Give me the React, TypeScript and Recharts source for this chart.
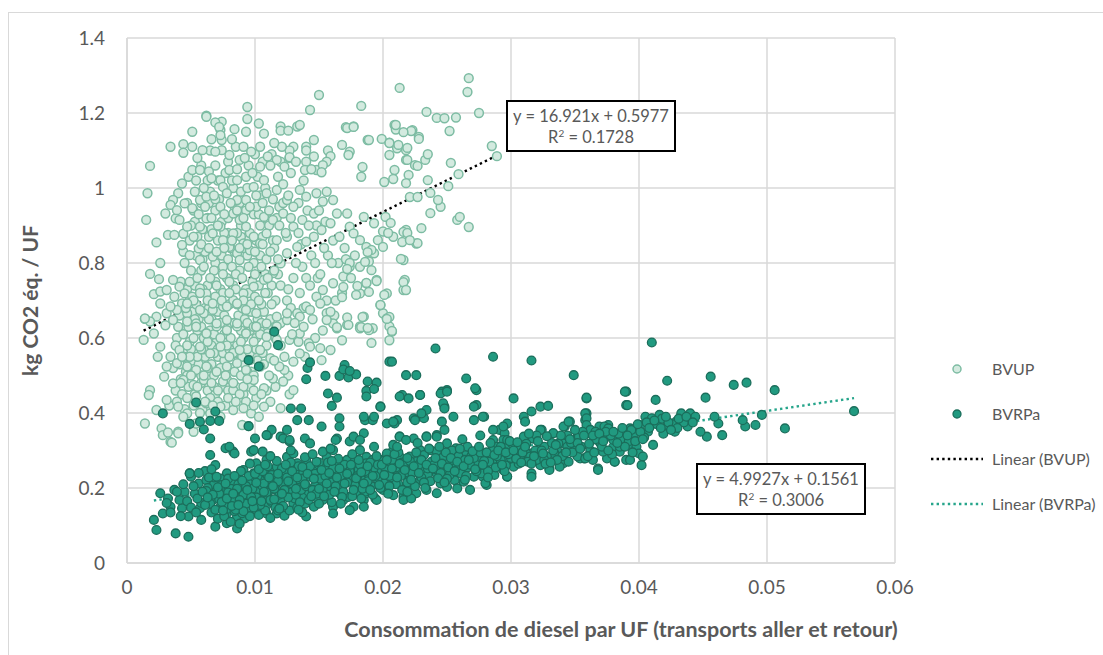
import React from "react";
import {
  ScatterChart,
  Scatter,
  XAxis,
  YAxis,
  CartesianGrid,
  ReferenceLine,
} from "recharts";

// Diesel consumption per UF (x) vs kg CO2 eq. per UF (y)

// BVUP: high scatter group, outlying and right-hand points
const bvupUpper: [number, number][] = [
  [0.0267, 1.293], [0.0266, 1.256], [0.0234, 1.203], [0.0242, 1.187], [0.0248, 1.186], [0.0257, 1.188],
  [0.0275, 1.2], [0.0252, 1.152], [0.0285, 1.112], [0.0289, 1.085], [0.0253, 1.067], [0.0259, 1.037],
  [0.0251, 1.005], [0.0245, 0.95], [0.0237, 0.933], [0.0258, 0.915], [0.026, 0.923], [0.0267, 0.896],
  [0.023, 0.893], [0.0227, 0.853], [0.0213, 1.267], [0.0183, 1.219], [0.021, 1.168], [0.0172, 1.16],
  [0.0177, 1.163], [0.0189, 1.128], [0.0199, 1.131], [0.0205, 1.12], [0.0212, 1.115], [0.0219, 1.107],
  [0.0228, 1.131], [0.0222, 1.152], [0.0216, 1.149], [0.0168, 1.115], [0.0173, 1.088], [0.0205, 1.088],
  [0.0219, 1.075], [0.0227, 1.059], [0.0233, 1.075], [0.0235, 1.09], [0.0184, 1.056], [0.0183, 1.03],
  [0.0209, 1.048], [0.0208, 1.024], [0.0201, 1.016], [0.022, 1.035], [0.0218, 1.013], [0.0235, 1.021],
  [0.0237, 0.987], [0.0221, 0.976], [0.0227, 0.976], [0.0243, 0.968], [0.0202, 0.923], [0.0206, 0.907],
  [0.0216, 0.883], [0.0219, 0.88], [0.0215, 0.856], [0.0221, 0.861], [0.0204, 0.88], [0.0196, 0.861],
  [0.02, 0.843], [0.0191, 0.835], [0.0188, 0.829], [0.0214, 0.811], [0.0186, 0.803], [0.0191, 0.781],
  [0.0174, 0.8], [0.0172, 0.784], [0.0195, 0.752], [0.0216, 0.749], [0.0218, 0.728], [0.0187, 0.747],
  [0.018, 0.739], [0.0189, 0.723], [0.0169, 0.736], [0.0179, 0.715], [0.0168, 0.709], [0.0201, 0.715],
  [0.0198, 0.688], [0.0184, 0.656], [0.0205, 0.656], [0.0203, 0.651], [0.0173, 0.635], [0.0183, 0.629],
  [0.0188, 0.627], [0.0207, 0.619], [0.0164, 0.629], [0.015, 1.248], [0.0094, 1.216], [0.0062, 1.19],
  [0.0143, 1.208],
];

// BVUP: main cloud
const bvupCore: [number, number][] = [
  [0.0062, 1.193], [0.0094, 1.184], [0.0084, 1.157], [0.0093, 1.15], [0.0103, 1.172], [0.0107, 1.145],
  [0.012, 1.164], [0.012, 1.153], [0.0126, 1.153], [0.0133, 1.164], [0.0135, 1.168], [0.0171, 1.162],
  [0.0177, 1.164], [0.0188, 1.128], [0.0209, 1.168], [0.021, 1.156], [0.0223, 1.154], [0.0228, 1.136],
  [0.0205, 1.121], [0.0211, 1.106], [0.0218, 1.101], [0.0218, 1.075], [0.0225, 1.061], [0.0174, 1.097],
  [0.0146, 1.128], [0.014, 1.11], [0.014, 1.1], [0.0146, 1.084], [0.014, 1.07], [0.0139, 1.048],
  [0.0148, 1.048], [0.0157, 1.1], [0.0159, 1.085], [0.0156, 1.07], [0.0153, 1.061], [0.0152, 1.042],
  [0.013, 1.11], [0.0127, 1.1], [0.0121, 1.11], [0.0127, 1.082], [0.0117, 1.075], [0.0123, 1.057],
  [0.011, 1.084], [0.0104, 1.11], [0.0104, 1.057], [0.0097, 1.097], [0.0088, 1.075], [0.008, 1.088],
  [0.0074, 1.101], [0.0069, 1.097], [0.0059, 1.101], [0.0051, 1.11], [0.0066, 1.13], [0.0074, 1.128],
  [0.0073, 1.155], [0.0074, 1.177], [0.0069, 1.175], [0.0072, 1.163], [0.0073, 1.141], [0.0051, 1.15],
  [0.0044, 1.117], [0.0044, 1.094], [0.0034, 1.11], [0.0018, 1.059], [0.0016, 0.986], [0.0015, 0.915],
  [0.003, 0.932], [0.0038, 0.919], [0.0023, 0.855], [0.0032, 0.875], [0.0037, 0.875], [0.0044, 0.878],
  [0.0043, 0.848], [0.0026, 0.8], [0.0018, 0.771], [0.0025, 0.757], [0.0021, 0.717], [0.0026, 0.724],
  [0.0031, 0.728], [0.0014, 0.651], [0.0036, 0.755], [0.0041, 0.737], [0.0049, 0.75], [0.0045, 0.719],
  [0.0051, 0.71], [0.0057, 0.732], [0.0062, 0.719], [0.0043, 0.692], [0.0051, 1.048], [0.0057, 1.048],
  [0.0064, 1.044], [0.0066, 1.026], [0.0073, 1.021], [0.0075, 1.003], [0.0078, 0.986], [0.0043, 1.012],
  [0.004, 0.986], [0.0036, 0.968], [0.0034, 0.955], [0.0039, 0.941], [0.0045, 0.959], [0.0051, 0.946],
  [0.0057, 0.968], [0.0062, 0.977], [0.0041, 0.915], [0.0047, 0.897], [0.0052, 0.87], [0.0057, 0.897],
  [0.0062, 0.919], [0.0067, 0.879], [0.0056, 0.839], [0.0049, 0.821], [0.0057, 0.808], [0.0067, 0.817],
  [0.0073, 0.897], [0.0075, 0.861], [0.0083, 0.879], [0.008, 0.843], [0.0086, 0.826], [0.0091, 0.852],
  [0.0099, 0.87], [0.0093, 0.897], [0.0088, 0.915], [0.0083, 0.932], [0.0073, 0.95], [0.008, 1.048],
  [0.0086, 1.021], [0.0093, 1.03], [0.0099, 1.003], [0.0107, 1.021], [0.0109, 0.986], [0.0117, 0.995],
  [0.0125, 0.968], [0.013, 0.95], [0.0122, 0.932], [0.0114, 0.915], [0.0107, 0.923], [0.0101, 0.95],
  [0.0093, 0.968], [0.0086, 0.968], [0.0135, 0.995], [0.014, 0.977], [0.0148, 0.986], [0.0153, 0.964],
  [0.0146, 0.932], [0.0137, 0.915], [0.013, 0.897], [0.0125, 0.87], [0.0117, 0.861], [0.0109, 0.879],
  [0.0104, 0.852], [0.0096, 0.834], [0.0088, 0.808], [0.0082, 0.79], [0.0075, 0.79], [0.0161, 0.968],
  [0.0164, 0.932], [0.0159, 0.906], [0.0152, 0.888], [0.0146, 0.87], [0.014, 0.857], [0.0133, 0.843],
  [0.0125, 0.826], [0.012, 0.799], [0.0114, 0.773], [0.0107, 0.755], [0.0099, 0.737], [0.0091, 0.719],
  [0.0083, 0.701], [0.0075, 0.684], [0.0067, 0.675], [0.006, 0.666], [0.0172, 0.932], [0.0174, 0.897],
  [0.0177, 0.879], [0.0182, 0.861], [0.0187, 0.843], [0.0193, 0.826], [0.0189, 0.804], [0.0182, 0.79],
  [0.0174, 0.79], [0.0169, 0.764], [0.0161, 0.746], [0.0153, 0.728], [0.0148, 0.71], [0.014, 0.684],
  [0.0133, 0.666], [0.0125, 0.648], [0.0117, 0.631], [0.011, 0.613], [0.0101, 0.631], [0.0093, 0.613],
  [0.0086, 0.631], [0.0078, 0.648], [0.007, 0.631], [0.0062, 0.613], [0.0054, 0.639], [0.0047, 0.666],
  [0.0039, 0.675], [0.0031, 0.666], [0.0023, 0.657], [0.0018, 0.644], [0.0185, 0.923], [0.0193, 0.906],
  [0.02, 0.884], [0.0208, 0.87], [0.0218, 0.888], [0.0226, 0.852], [0.0216, 0.808], [0.0217, 0.755],
  [0.0216, 0.728], [0.0203, 0.719], [0.0195, 0.755], [0.0187, 0.746], [0.0182, 0.719], [0.02, 0.666],
  [0.0205, 0.631], [0.0192, 0.626], [0.0182, 0.631], [0.0172, 0.635], [0.0161, 0.639], [0.0156, 0.666],
  [0.0045, 0.8], [0.005, 0.78], [0.0055, 0.76], [0.006, 0.79], [0.0065, 0.76], [0.007, 0.74],
  [0.0075, 0.77], [0.008, 0.75], [0.0085, 0.77], [0.009, 0.76], [0.0095, 0.79], [0.01, 0.77],
  [0.0105, 0.79], [0.011, 0.76], [0.0115, 0.78], [0.012, 0.74], [0.0047, 0.58], [0.0052, 0.6],
  [0.0058, 0.57], [0.0063, 0.59], [0.0068, 0.56], [0.0073, 0.6], [0.0078, 0.58], [0.0083, 0.56],
  [0.0089, 0.59], [0.0094, 0.57], [0.0099, 0.59], [0.0104, 0.61], [0.0109, 0.58], [0.0056, 0.93],
  [0.0061, 0.95], [0.0066, 0.92], [0.0071, 0.9], [0.0076, 0.93], [0.0081, 0.96], [0.0086, 0.94],
  [0.0091, 0.92], [0.0096, 0.95], [0.0101, 0.98], [0.0106, 0.96], [0.0111, 0.94], [0.0046, 0.68],
  [0.0052, 0.7], [0.0057, 0.72], [0.0063, 0.7], [0.0069, 0.71], [0.0074, 0.7], [0.008, 0.72],
  [0.0086, 0.69], [0.0091, 0.7], [0.0097, 0.69], [0.0103, 0.7], [0.0108, 0.72], [0.0113, 0.69],
  [0.0058, 0.85], [0.0064, 0.84], [0.007, 0.83], [0.0076, 0.84], [0.0082, 0.86], [0.0088, 0.84],
  [0.0094, 0.85], [0.01, 0.83], [0.0106, 0.85], [0.0112, 0.83], [0.0118, 0.81], [0.006, 1.0],
  [0.0068, 0.98], [0.0086, 1.05], [0.0092, 1.08], [0.0098, 1.04], [0.0112, 1.06], [0.0118, 1.03],
  [0.0115, 1.12], [0.0091, 1.11], [0.0082, 1.13], [0.0122, 1.01], [0.0128, 1.04], [0.0132, 1.07],
  [0.0126, 0.98], [0.0138, 1.02], [0.0144, 1.05], [0.0128, 0.92], [0.0134, 0.88], [0.0142, 0.9],
  [0.015, 0.94], [0.0156, 0.99], [0.0124, 0.88], [0.0119, 0.9], [0.0132, 0.8], [0.014, 0.76],
  [0.0147, 0.8], [0.0154, 0.84], [0.016, 0.8], [0.0126, 0.73], [0.0135, 0.72], [0.0143, 0.74],
  [0.0151, 0.77], [0.0166, 0.87], [0.017, 0.84], [0.0178, 0.82], [0.0163, 0.7], [0.0168, 0.72],
  [0.0175, 0.76], [0.0038, 0.58], [0.004, 0.63], [0.0037, 0.71],
];

// BVUP: densest part of the cloud
const bvupDense: [number, number][] = [
  [0.0048, 1.03], [0.0053, 0.99], [0.0058, 1.06], [0.0063, 1.02], [0.0069, 1.06], [0.0072, 0.97],
  [0.0077, 1.04], [0.0083, 1.0], [0.0089, 0.99], [0.0095, 1.06], [0.0102, 1.03], [0.0108, 1.0],
  [0.0113, 1.09], [0.0047, 0.96], [0.0053, 0.91], [0.0059, 0.89], [0.0064, 0.96], [0.0069, 0.94],
  [0.0074, 0.91], [0.0079, 0.88], [0.0084, 0.95], [0.0089, 0.9], [0.0094, 0.87], [0.0099, 0.93],
  [0.0104, 0.9], [0.0109, 0.92], [0.0114, 0.86], [0.0119, 0.95], [0.0044, 0.83], [0.0049, 0.86],
  [0.0054, 0.82], [0.0059, 0.81], [0.0064, 0.87], [0.0069, 0.8], [0.0074, 0.82], [0.0079, 0.81],
  [0.0084, 0.83], [0.0089, 0.87], [0.0094, 0.82], [0.0099, 0.8], [0.0104, 0.82], [0.0109, 0.81],
  [0.0115, 0.84], [0.0042, 0.75], [0.0047, 0.73], [0.0053, 0.74], [0.0058, 0.78], [0.0063, 0.74],
  [0.0068, 0.78], [0.0073, 0.73], [0.0078, 0.76], [0.0083, 0.74], [0.0088, 0.78], [0.0093, 0.73],
  [0.0098, 0.75], [0.0103, 0.74], [0.0108, 0.77], [0.0113, 0.74], [0.0118, 0.77], [0.0041, 0.66],
  [0.0046, 0.63], [0.0051, 0.67], [0.0056, 0.65], [0.0061, 0.68], [0.0066, 0.65], [0.0071, 0.67],
  [0.0076, 0.66], [0.0081, 0.64], [0.0087, 0.66], [0.0092, 0.65], [0.0097, 0.67], [0.0102, 0.65],
  [0.0107, 0.67], [0.0112, 0.65], [0.0039, 0.6], [0.0044, 0.61], [0.0049, 0.59], [0.0055, 0.62],
  [0.006, 0.6], [0.0065, 0.62], [0.007, 0.59], [0.0076, 0.61], [0.0081, 0.6], [0.0086, 0.58],
  [0.0091, 0.6], [0.0096, 0.62], [0.0101, 0.6], [0.0106, 0.62], [0.0036, 0.52], [0.0041, 0.53],
  [0.0046, 0.51], [0.0051, 0.54], [0.0056, 0.53], [0.0061, 0.55], [0.0066, 0.53], [0.0071, 0.55],
  [0.0076, 0.54], [0.0081, 0.52], [0.0087, 0.55], [0.0092, 0.53], [0.0097, 0.51], [0.0102, 0.54],
  [0.0107, 0.53], [0.0038, 0.46], [0.0043, 0.45], [0.0048, 0.47], [0.0053, 0.45], [0.0058, 0.48],
  [0.0063, 0.46], [0.0069, 0.45], [0.0074, 0.47], [0.0079, 0.46], [0.0085, 0.47], [0.0091, 0.45],
  [0.0096, 0.47], [0.0101, 0.44], [0.0033, 0.42], [0.0039, 0.43], [0.0045, 0.41], [0.0052, 0.42],
  [0.0059, 0.41], [0.0065, 0.44], [0.0071, 0.43], [0.0077, 0.42], [0.0093, 0.43], [0.0109, 0.46],
  [0.0125, 0.7], [0.013, 0.76], [0.0137, 0.79], [0.0144, 0.82], [0.0136, 0.85], [0.0122, 0.96],
  [0.0127, 1.08], [0.0134, 0.96], [0.0141, 0.94], [0.0148, 0.9], [0.0155, 0.91], [0.0161, 0.86],
  [0.0157, 0.82], [0.0165, 0.8], [0.0171, 0.81], [0.0149, 0.76], [0.0156, 0.7], [0.0145, 0.65],
  [0.0138, 0.68], [0.0128, 0.68], [0.012, 0.64], [0.0116, 0.6], [0.0134, 0.59], [0.012, 0.58],
  [0.0126, 0.5], [0.0116, 0.47], [0.0112, 0.43], [0.0127, 0.45], [0.0139, 0.55], [0.0147, 0.6],
  [0.0153, 0.62], [0.0162, 0.66], [0.005, 0.9], [0.0055, 0.87], [0.0061, 0.83], [0.0066, 0.89],
  [0.0071, 0.86], [0.0076, 0.88], [0.0081, 0.84], [0.0086, 0.88], [0.0091, 0.84], [0.0096, 0.88],
  [0.0101, 0.86], [0.0106, 0.87], [0.0111, 0.9], [0.0049, 0.71], [0.0054, 0.69], [0.0059, 0.73],
  [0.0064, 0.68], [0.0069, 0.75], [0.0075, 0.72], [0.008, 0.69], [0.0085, 0.73], [0.009, 0.68],
  [0.0095, 0.72], [0.01, 0.71], [0.0105, 0.69], [0.011, 0.72], [0.0116, 0.7], [0.0048, 0.63],
  [0.0053, 0.65], [0.0058, 0.63], [0.0064, 0.65], [0.0068, 0.61], [0.0073, 0.64], [0.0078, 0.62],
  [0.0084, 0.64], [0.0089, 0.62], [0.0094, 0.64], [0.0099, 0.63], [0.0105, 0.64], [0.011, 0.63],
  [0.0045, 0.55], [0.005, 0.57], [0.0055, 0.55], [0.006, 0.57], [0.0066, 0.58], [0.0071, 0.57],
  [0.0075, 0.56], [0.008, 0.57], [0.0086, 0.56], [0.009, 0.55], [0.0096, 0.56], [0.0101, 0.57],
  [0.0106, 0.56], [0.0042, 0.49], [0.0047, 0.5], [0.0053, 0.51], [0.0058, 0.5], [0.0063, 0.52],
  [0.0068, 0.5], [0.0073, 0.52], [0.0078, 0.49], [0.0084, 0.51], [0.0089, 0.5], [0.0094, 0.51],
  [0.0099, 0.5], [0.0055, 1.08], [0.0065, 1.1], [0.0079, 1.07], [0.0085, 1.11], [0.01, 1.09],
  [0.0106, 1.07], [0.0054, 1.02], [0.0065, 0.99], [0.0071, 1.02], [0.0082, 1.02], [0.0088, 0.96],
  [0.0094, 1.0], [0.0104, 0.98], [0.0114, 0.97], [0.012, 1.07], [0.0052, 0.94], [0.0058, 0.96],
  [0.0063, 0.92], [0.0069, 0.97], [0.0079, 0.92], [0.0093, 0.94], [0.0103, 0.93], [0.0117, 0.92],
];

// BVUP: lower edge of the cloud
const bvupLower: [number, number][] = [
  [0.0026, 0.692], [0.0034, 0.684], [0.0047, 0.692], [0.0057, 0.675], [0.0067, 0.692], [0.0078, 0.684],
  [0.0086, 0.692], [0.0093, 0.675], [0.0101, 0.666], [0.0109, 0.639], [0.0117, 0.657], [0.0125, 0.666],
  [0.0135, 0.657], [0.0143, 0.675], [0.0151, 0.692], [0.0159, 0.67], [0.0172, 0.655], [0.0185, 0.657],
  [0.0189, 0.621], [0.0198, 0.688], [0.0203, 0.652], [0.0207, 0.617], [0.0205, 0.594], [0.0191, 0.587],
  [0.0182, 0.626], [0.0164, 0.626], [0.0156, 0.648], [0.0168, 0.594], [0.0014, 0.652], [0.0013, 0.595],
  [0.0021, 0.612], [0.003, 0.634], [0.0036, 0.648], [0.0047, 0.644], [0.0054, 0.63], [0.0062, 0.612],
  [0.007, 0.639], [0.0078, 0.621], [0.0086, 0.639], [0.0093, 0.612], [0.0101, 0.63], [0.0109, 0.603],
  [0.0117, 0.595], [0.0127, 0.595], [0.0135, 0.612], [0.0142, 0.586], [0.0151, 0.573], [0.0159, 0.568],
  [0.0152, 0.541], [0.0143, 0.577], [0.0135, 0.559], [0.013, 0.537], [0.0123, 0.515], [0.0119, 0.524],
  [0.0026, 0.577], [0.0034, 0.55], [0.0041, 0.568], [0.0049, 0.55], [0.0057, 0.577], [0.0065, 0.559],
  [0.0073, 0.577], [0.008, 0.55], [0.0088, 0.568], [0.0096, 0.541], [0.0104, 0.568], [0.0112, 0.546],
  [0.0104, 0.524], [0.0093, 0.515], [0.0086, 0.533], [0.0078, 0.524], [0.007, 0.51], [0.0062, 0.524],
  [0.0054, 0.515], [0.0047, 0.524], [0.0039, 0.533], [0.0031, 0.524], [0.0024, 0.55], [0.0029, 0.497],
  [0.0036, 0.479], [0.0044, 0.488], [0.0052, 0.475], [0.006, 0.488], [0.0068, 0.47], [0.0075, 0.484],
  [0.0083, 0.461], [0.0091, 0.47], [0.0099, 0.488], [0.0107, 0.466], [0.0114, 0.492], [0.0122, 0.484],
  [0.013, 0.461], [0.0018, 0.461], [0.0017, 0.448], [0.0031, 0.435], [0.004, 0.417], [0.0047, 0.399],
  [0.0054, 0.444], [0.0062, 0.426], [0.0073, 0.417], [0.0083, 0.408], [0.0091, 0.413], [0.0097, 0.399],
  [0.0107, 0.417], [0.012, 0.413], [0.0023, 0.408], [0.0014, 0.372], [0.0027, 0.359], [0.0028, 0.341],
  [0.0034, 0.323], [0.004, 0.35], [0.0051, 0.368], [0.0052, 0.35], [0.0054, 0.372], [0.0065, 0.399],
  [0.0073, 0.39], [0.009, 0.368], [0.0095, 0.365], [0.0032, 0.348], [0.004, 0.346], [0.0035, 0.321],
  [0.005, 0.5], [0.0055, 0.47], [0.006, 0.5], [0.0066, 0.48], [0.0071, 0.46], [0.0077, 0.5],
  [0.0083, 0.48], [0.0088, 0.45], [0.0094, 0.49], [0.0099, 0.46], [0.0105, 0.45], [0.0047, 0.44],
  [0.0043, 0.55], [0.0042, 0.48], [0.0123, 0.55], [0.0131, 0.64], [0.0138, 0.63], [0.0115, 0.54],
  [0.0111, 0.5], [0.0129, 0.61], [0.0061, 0.43], [0.0067, 0.42], [0.0079, 0.44], [0.0085, 0.43],
  [0.0099, 0.42], [0.0103, 0.39], [0.0057, 0.4], [0.0044, 0.39],
];

// BVRPa: points standing above the main band
const bvrpaSpread: [number, number][] = [
  [0.0115, 0.617], [0.0118, 0.581], [0.0095, 0.541], [0.0103, 0.524], [0.0054, 0.428], [0.0028, 0.399],
  [0.0069, 0.404], [0.0049, 0.371], [0.0057, 0.377], [0.0065, 0.379], [0.0072, 0.379], [0.006, 0.356],
  [0.0065, 0.332], [0.0095, 0.365], [0.0128, 0.412], [0.0136, 0.412], [0.0133, 0.381], [0.0142, 0.381],
  [0.0141, 0.52], [0.0143, 0.535], [0.014, 0.49], [0.0155, 0.499], [0.0157, 0.452], [0.017, 0.528],
  [0.0166, 0.499], [0.0173, 0.495], [0.0179, 0.503], [0.0169, 0.516], [0.0174, 0.512], [0.0188, 0.484],
  [0.0195, 0.481], [0.0187, 0.459], [0.0193, 0.464], [0.0164, 0.441], [0.016, 0.419], [0.0166, 0.386],
  [0.0166, 0.364], [0.0152, 0.364], [0.0186, 0.381], [0.0192, 0.381], [0.0198, 0.417], [0.0211, 0.381],
  [0.0209, 0.372], [0.0215, 0.448], [0.022, 0.439], [0.0205, 0.537], [0.0207, 0.537], [0.0218, 0.501],
  [0.0226, 0.501], [0.0229, 0.448], [0.0224, 0.386], [0.0232, 0.386], [0.0241, 0.572], [0.0246, 0.457],
  [0.025, 0.461], [0.0247, 0.426], [0.0248, 0.412], [0.0265, 0.492], [0.0273, 0.461], [0.0271, 0.417],
  [0.0255, 0.39], [0.0278, 0.39], [0.0286, 0.55], [0.0302, 0.439], [0.0316, 0.54], [0.0349, 0.501],
  [0.041, 0.588], [0.0422, 0.486], [0.0456, 0.497], [0.0474, 0.475], [0.0484, 0.481], [0.0506, 0.461],
  [0.0389, 0.457], [0.0391, 0.421], [0.0359, 0.441], [0.0413, 0.435], [0.0452, 0.441], [0.0323, 0.417],
  [0.0329, 0.419], [0.0316, 0.404], [0.031, 0.39], [0.0311, 0.377], [0.0272, 0.466], [0.0213, 0.444],
  [0.0229, 0.448], [0.0245, 0.452], [0.025, 0.457], [0.0187, 0.444], [0.0198, 0.417], [0.0193, 0.39],
  [0.0185, 0.39], [0.0203, 0.372], [0.0208, 0.377], [0.0234, 0.408], [0.023, 0.399], [0.0225, 0.381],
  [0.0568, 0.405], [0.0514, 0.359], [0.0496, 0.395], [0.0491, 0.368], [0.0483, 0.364], [0.0481, 0.381],
  [0.0465, 0.341], [0.0459, 0.39], [0.0453, 0.337], [0.0448, 0.35], [0.011, 0.341], [0.0113, 0.355],
  [0.0177, 0.337], [0.0182, 0.328], [0.0163, 0.328], [0.0122, 0.332], [0.0125, 0.355], [0.0127, 0.328],
  [0.0109, 0.341], [0.01, 0.332], [0.0234, 0.337], [0.0213, 0.337], [0.0218, 0.328],
];

// BVRPa: main band
const bvrpaBand: [number, number][] = [
  [0.0065, 0.288], [0.0069, 0.261], [0.0077, 0.306], [0.0083, 0.297], [0.008, 0.31], [0.0078, 0.239],
  [0.0049, 0.239], [0.005, 0.23], [0.0097, 0.297], [0.0021, 0.115], [0.0023, 0.088], [0.0038, 0.079],
  [0.0048, 0.07], [0.0026, 0.186], [0.0028, 0.132], [0.0037, 0.195], [0.0045, 0.19], [0.0049, 0.239],
  [0.0056, 0.212], [0.0062, 0.221], [0.0057, 0.146], [0.0058, 0.115], [0.0048, 0.124], [0.0043, 0.146],
  [0.0034, 0.15], [0.0041, 0.168], [0.0032, 0.172], [0.0069, 0.097], [0.0078, 0.106], [0.0086, 0.092],
  [0.0084, 0.292], [0.007, 0.195], [0.0075, 0.195], [0.0083, 0.195], [0.0088, 0.195], [0.0093, 0.186],
  [0.0067, 0.168], [0.0073, 0.15], [0.0078, 0.132], [0.0086, 0.124], [0.0092, 0.119], [0.008, 0.159],
  [0.0088, 0.146], [0.0096, 0.159], [0.0101, 0.141], [0.0109, 0.132], [0.0117, 0.132], [0.0091, 0.248],
  [0.0099, 0.239], [0.0104, 0.226], [0.0109, 0.239], [0.0114, 0.248], [0.012, 0.23], [0.0099, 0.203],
  [0.0104, 0.177], [0.0112, 0.195], [0.012, 0.168], [0.0125, 0.203], [0.013, 0.159], [0.0138, 0.177],
  [0.0146, 0.15], [0.0153, 0.168], [0.0161, 0.15], [0.0169, 0.168], [0.0177, 0.15], [0.0185, 0.168],
  [0.0101, 0.266], [0.0109, 0.275], [0.0117, 0.257], [0.0125, 0.283], [0.0133, 0.266], [0.014, 0.275],
  [0.0148, 0.257], [0.0156, 0.283], [0.0164, 0.266], [0.0172, 0.275], [0.0179, 0.257], [0.0187, 0.283],
  [0.012, 0.337], [0.0127, 0.324], [0.013, 0.292], [0.0139, 0.332], [0.0143, 0.319], [0.0153, 0.297],
  [0.0161, 0.301], [0.0164, 0.332], [0.0174, 0.324], [0.0182, 0.301], [0.0185, 0.346], [0.0106, 0.297],
  [0.0099, 0.301], [0.0104, 0.221], [0.0112, 0.217], [0.0127, 0.23], [0.0135, 0.217], [0.0143, 0.23],
  [0.0151, 0.212], [0.0159, 0.226], [0.0166, 0.208], [0.0174, 0.221], [0.0182, 0.203], [0.014, 0.124],
  [0.0161, 0.132], [0.0174, 0.141], [0.0151, 0.186], [0.0166, 0.186], [0.0179, 0.186], [0.0117, 0.195],
  [0.0109, 0.155], [0.0359, 0.439], [0.039, 0.457], [0.039, 0.421], [0.0359, 0.399], [0.0358, 0.381],
  [0.0297, 0.372], [0.0291, 0.355], [0.0295, 0.346], [0.0294, 0.328], [0.0286, 0.328], [0.0289, 0.31],
  [0.0297, 0.31], [0.0304, 0.297], [0.0307, 0.275], [0.0297, 0.275], [0.0291, 0.257], [0.0286, 0.239],
  [0.0297, 0.23], [0.0316, 0.239], [0.0316, 0.23], [0.0315, 0.292], [0.0323, 0.31], [0.0328, 0.284],
  [0.0336, 0.301], [0.0341, 0.319], [0.0349, 0.301], [0.0357, 0.279], [0.0364, 0.275], [0.0362, 0.346],
  [0.0367, 0.328], [0.0375, 0.337], [0.038, 0.31], [0.0385, 0.297], [0.039, 0.275], [0.0395, 0.31],
  [0.0398, 0.355], [0.0376, 0.368], [0.0369, 0.364], [0.0317, 0.332], [0.0324, 0.355], [0.0333, 0.346],
  [0.0342, 0.364], [0.0346, 0.377], [0.0352, 0.337], [0.0341, 0.266], [0.033, 0.252], [0.0323, 0.261],
  [0.0368, 0.252], [0.0381, 0.27], [0.0354, 0.279], [0.0273, 0.421], [0.0279, 0.39], [0.0271, 0.381],
  [0.0248, 0.417], [0.0246, 0.377], [0.0248, 0.355], [0.0242, 0.341], [0.025, 0.319], [0.0257, 0.306],
  [0.0265, 0.288], [0.0273, 0.279], [0.0281, 0.266], [0.0289, 0.275], [0.0278, 0.23], [0.0271, 0.23],
  [0.0263, 0.217], [0.0256, 0.221], [0.025, 0.203], [0.0281, 0.208], [0.0224, 0.332], [0.0234, 0.337],
  [0.0242, 0.337], [0.0237, 0.301], [0.0229, 0.301], [0.0221, 0.284], [0.0213, 0.284], [0.0208, 0.301],
  [0.0203, 0.292], [0.0198, 0.275], [0.0192, 0.275], [0.0187, 0.266], [0.0185, 0.248], [0.0234, 0.257],
  [0.0242, 0.239], [0.025, 0.248], [0.0229, 0.221], [0.0221, 0.23], [0.0213, 0.248], [0.0206, 0.239],
  [0.0198, 0.221], [0.019, 0.23], [0.0245, 0.212], [0.0234, 0.195], [0.0226, 0.186], [0.0216, 0.177],
  [0.0208, 0.181], [0.02, 0.195], [0.0194, 0.172], [0.0187, 0.186], [0.0242, 0.186], [0.0258, 0.199],
  [0.0268, 0.195], [0.0195, 0.168], [0.0216, 0.168], [0.0222, 0.172], [0.0185, 0.15], [0.0213, 0.337],
  [0.0208, 0.315], [0.0358, 0.399], [0.0359, 0.386], [0.0359, 0.368], [0.0362, 0.355], [0.0366, 0.35],
  [0.0373, 0.364], [0.0376, 0.359], [0.0341, 0.364], [0.0345, 0.377], [0.0353, 0.337], [0.0333, 0.346],
  [0.0337, 0.319], [0.0344, 0.31], [0.0334, 0.292], [0.0328, 0.284], [0.0323, 0.355], [0.0317, 0.332],
  [0.0312, 0.292], [0.0315, 0.284], [0.032, 0.275], [0.0326, 0.275], [0.033, 0.248], [0.0338, 0.257],
  [0.0345, 0.27], [0.0352, 0.284], [0.0358, 0.279], [0.0368, 0.248], [0.0375, 0.279], [0.0381, 0.27],
  [0.0388, 0.346], [0.0393, 0.359], [0.0401, 0.368], [0.0405, 0.39], [0.041, 0.386], [0.0416, 0.395],
  [0.0407, 0.35], [0.0398, 0.31], [0.04, 0.292], [0.0403, 0.284], [0.0393, 0.275], [0.0385, 0.31],
  [0.038, 0.328], [0.037, 0.319], [0.0372, 0.297], [0.0402, 0.261], [0.0411, 0.315], [0.0422, 0.368],
  [0.0428, 0.35], [0.0429, 0.377], [0.0433, 0.399], [0.044, 0.399], [0.0438, 0.364], [0.028, 0.213],
  [0.0277, 0.239], [0.0286, 0.355], [0.0294, 0.364], [0.0297, 0.328], [0.0291, 0.301], [0.0286, 0.275],
  [0.0294, 0.248], [0.0302, 0.257], [0.0307, 0.284], [0.0304, 0.31], [0.031, 0.337], [0.0297, 0.231],
  [0.0287, 0.235], [0.028, 0.292], [0.0072, 0.17], [0.0076, 0.18], [0.0081, 0.165], [0.0085, 0.175],
  [0.0089, 0.16], [0.0094, 0.17], [0.0098, 0.185], [0.0079, 0.145], [0.0084, 0.138], [0.009, 0.133],
  [0.0095, 0.142], [0.01, 0.152], [0.0068, 0.21], [0.0073, 0.225], [0.0082, 0.215], [0.0087, 0.228],
  [0.0092, 0.212], [0.0097, 0.222], [0.0102, 0.19], [0.0106, 0.205], [0.011, 0.176], [0.0113, 0.163],
  [0.0116, 0.148], [0.0119, 0.182], [0.0122, 0.215], [0.0124, 0.244], [0.0128, 0.188], [0.0131, 0.172],
  [0.0134, 0.2], [0.0136, 0.236], [0.0139, 0.158], [0.0142, 0.19], [0.0145, 0.246], [0.0147, 0.205],
  [0.0149, 0.172], [0.0152, 0.23], [0.0155, 0.258], [0.0157, 0.196], [0.016, 0.162], [0.0162, 0.24],
  [0.0165, 0.218], [0.0168, 0.198], [0.0171, 0.254], [0.0173, 0.176], [0.0176, 0.232], [0.0178, 0.207],
  [0.0181, 0.248], [0.0184, 0.22], [0.0186, 0.19], [0.0189, 0.236], [0.0191, 0.205], [0.0194, 0.252],
  [0.0196, 0.222], [0.0199, 0.245], [0.0201, 0.212], [0.0204, 0.262], [0.0207, 0.228], [0.021, 0.255],
  [0.0212, 0.21], [0.0215, 0.268], [0.0218, 0.242], [0.022, 0.205], [0.0223, 0.26], [0.0227, 0.272],
  [0.0231, 0.245], [0.0235, 0.235], [0.0238, 0.27], [0.0241, 0.25], [0.0244, 0.28], [0.0247, 0.265],
  [0.0252, 0.235], [0.0255, 0.262], [0.0259, 0.242], [0.0262, 0.27], [0.0266, 0.255], [0.0269, 0.285],
  [0.0274, 0.262], [0.0277, 0.28], [0.0283, 0.27], [0.0288, 0.255], [0.0292, 0.275], [0.0296, 0.26],
  [0.03, 0.28], [0.0306, 0.265], [0.0313, 0.27], [0.0319, 0.3], [0.0326, 0.31], [0.0333, 0.3],
  [0.034, 0.285], [0.0347, 0.32], [0.0355, 0.31], [0.0362, 0.3], [0.0366, 0.33], [0.0378, 0.34],
  [0.0386, 0.33], [0.0392, 0.325], [0.0396, 0.34], [0.0404, 0.335], [0.0419, 0.345], [0.0426, 0.37],
  [0.0435, 0.375], [0.0444, 0.39], [0.0462, 0.372], [0.0053, 0.185], [0.0058, 0.16], [0.0063, 0.2],
  [0.0066, 0.135], [0.0061, 0.245], [0.0056, 0.24], [0.0044, 0.21], [0.0039, 0.19], [0.0031, 0.16],
  [0.0034, 0.135], [0.0042, 0.125], [0.0071, 0.118], [0.0076, 0.125], [0.0081, 0.11], [0.0088, 0.105],
  [0.0096, 0.125], [0.0103, 0.128], [0.0108, 0.14], [0.0112, 0.12], [0.0118, 0.14], [0.0123, 0.126],
  [0.0127, 0.14], [0.0133, 0.148], [0.0137, 0.135],
];

// BVRPa: additional band points, left to right
const bvrpaFill: [number, number][] = [
  [0.0052, 0.205], [0.0055, 0.172], [0.0059, 0.19], [0.0061, 0.155], [0.0064, 0.228], [0.0067, 0.182],
  [0.0069, 0.142], [0.0071, 0.202], [0.0074, 0.163], [0.0077, 0.212], [0.0079, 0.188], [0.0082, 0.152],
  [0.0084, 0.232], [0.0086, 0.198], [0.0088, 0.168], [0.0091, 0.138], [0.0093, 0.205], [0.0095, 0.232],
  [0.0097, 0.176], [0.0099, 0.148], [0.0101, 0.214], [0.0047, 0.165], [0.005, 0.148], [0.0054, 0.135],
  [0.0063, 0.175], [0.0066, 0.25], [0.007, 0.23], [0.0075, 0.14], [0.0078, 0.172], [0.0083, 0.185],
  [0.0087, 0.155], [0.009, 0.22], [0.0094, 0.195], [0.0098, 0.165], [0.01, 0.238], [0.0103, 0.25],
  [0.0105, 0.165], [0.0107, 0.19], [0.0108, 0.262], [0.0111, 0.228], [0.0114, 0.205], [0.0115, 0.17],
  [0.0118, 0.238], [0.0121, 0.185], [0.0122, 0.152], [0.0124, 0.262], [0.0126, 0.218], [0.0129, 0.245],
  [0.0132, 0.198], [0.0133, 0.228], [0.0135, 0.162], [0.0137, 0.256], [0.0139, 0.21], [0.0141, 0.238],
  [0.0144, 0.178], [0.0146, 0.225], [0.0148, 0.27], [0.015, 0.198], [0.0152, 0.248], [0.0154, 0.178],
  [0.0156, 0.212], [0.0158, 0.24], [0.016, 0.272], [0.0162, 0.19], [0.0164, 0.228], [0.0166, 0.252],
  [0.0168, 0.176], [0.017, 0.212], [0.0172, 0.238], [0.0175, 0.262], [0.0177, 0.195], [0.0179, 0.226],
  [0.0181, 0.275], [0.0183, 0.242], [0.0185, 0.212], [0.0188, 0.258], [0.019, 0.195], [0.0192, 0.232],
  [0.0195, 0.285], [0.0197, 0.208], [0.0199, 0.262], [0.0112, 0.285], [0.0128, 0.3], [0.0145, 0.29],
  [0.0159, 0.305], [0.0176, 0.29], [0.0193, 0.31], [0.0119, 0.145], [0.0134, 0.142], [0.015, 0.158],
  [0.0167, 0.158], [0.0183, 0.172], [0.0201, 0.235], [0.0203, 0.275], [0.0205, 0.205], [0.0207, 0.252],
  [0.0209, 0.29], [0.0211, 0.228], [0.0213, 0.265], [0.0215, 0.195], [0.0217, 0.248], [0.0219, 0.28],
  [0.0222, 0.222], [0.0224, 0.258], [0.0226, 0.295], [0.0228, 0.24], [0.023, 0.275], [0.0232, 0.215],
  [0.0234, 0.262], [0.0236, 0.305], [0.0239, 0.252], [0.0241, 0.28], [0.0243, 0.226], [0.0246, 0.265],
  [0.0249, 0.295], [0.0251, 0.255], [0.0253, 0.28], [0.0256, 0.245], [0.0258, 0.27], [0.026, 0.305],
  [0.0263, 0.258], [0.0265, 0.232], [0.0267, 0.275], [0.027, 0.298], [0.0272, 0.25], [0.0275, 0.31],
  [0.0278, 0.262], [0.0281, 0.295], [0.0284, 0.32], [0.0287, 0.288], [0.029, 0.3], [0.0293, 0.262],
  [0.0296, 0.295], [0.0299, 0.325], [0.0211, 0.31], [0.0227, 0.32], [0.0244, 0.31], [0.0262, 0.33],
  [0.0276, 0.34], [0.0204, 0.185], [0.0219, 0.19], [0.0233, 0.2], [0.0248, 0.215], [0.0264, 0.222],
  [0.0282, 0.228], [0.0302, 0.3], [0.0305, 0.322], [0.0308, 0.268], [0.0311, 0.31], [0.0314, 0.345],
  [0.0318, 0.285], [0.0321, 0.325], [0.0325, 0.292], [0.0328, 0.338], [0.0331, 0.268], [0.0335, 0.315],
  [0.0339, 0.34], [0.0343, 0.295], [0.0346, 0.33], [0.035, 0.355], [0.0354, 0.305], [0.0357, 0.34],
  [0.0361, 0.318], [0.0365, 0.295], [0.0369, 0.345], [0.0372, 0.325], [0.0376, 0.3], [0.038, 0.35],
  [0.0383, 0.32], [0.0387, 0.36], [0.0391, 0.34], [0.0395, 0.295], [0.0399, 0.37], [0.0403, 0.33],
  [0.0408, 0.36], [0.0412, 0.38], [0.0417, 0.36], [0.0421, 0.39], [0.0425, 0.355], [0.0431, 0.385],
  [0.0437, 0.39], [0.0442, 0.375],
];

// BVRPa: densest stretch of the band
const bvrpaCore: [number, number][] = [
  [0.0062, 0.192], [0.0065, 0.158], [0.0068, 0.228], [0.0072, 0.185], [0.0074, 0.208], [0.0076, 0.152],
  [0.0079, 0.225], [0.0081, 0.198], [0.0083, 0.172], [0.0085, 0.142], [0.0087, 0.21], [0.0089, 0.245],
  [0.0091, 0.182], [0.0093, 0.158], [0.0095, 0.212], [0.0096, 0.265], [0.0098, 0.198], [0.0101, 0.175],
  [0.0102, 0.232], [0.0104, 0.155], [0.0106, 0.245], [0.0107, 0.212], [0.0109, 0.188], [0.011, 0.258],
  [0.0112, 0.168], [0.0113, 0.235], [0.0115, 0.198], [0.0117, 0.272], [0.0118, 0.218], [0.012, 0.148],
  [0.0121, 0.252], [0.0123, 0.195], [0.0125, 0.228], [0.0126, 0.175], [0.0128, 0.268], [0.0129, 0.212],
  [0.0131, 0.245], [0.0132, 0.182], [0.0134, 0.258], [0.0136, 0.195], [0.0137, 0.225], [0.0139, 0.282],
  [0.014, 0.205], [0.0142, 0.168], [0.0143, 0.258], [0.0145, 0.195], [0.0147, 0.238], [0.0148, 0.185],
  [0.015, 0.268], [0.0151, 0.225], [0.0153, 0.195], [0.0155, 0.232], [0.0157, 0.268], [0.0158, 0.182],
  [0.016, 0.215], [0.0161, 0.252], [0.0163, 0.205], [0.0165, 0.278], [0.0167, 0.232], [0.0169, 0.19],
  [0.017, 0.262], [0.0172, 0.215], [0.0174, 0.245], [0.0176, 0.178], [0.0178, 0.272], [0.018, 0.232],
  [0.0182, 0.262], [0.0184, 0.198], [0.0186, 0.245], [0.0188, 0.218], [0.019, 0.268], [0.0192, 0.182],
  [0.0194, 0.232], [0.0196, 0.262], [0.0198, 0.2], [0.02, 0.272], [0.0202, 0.25], [0.0205, 0.232],
  [0.0207, 0.275], [0.021, 0.21], [0.0212, 0.295], [0.0214, 0.232], [0.0216, 0.26], [0.0219, 0.215],
  [0.0221, 0.272], [0.0223, 0.24], [0.0225, 0.205], [0.0228, 0.262], [0.023, 0.228], [0.0232, 0.288],
  [0.0235, 0.252], [0.0237, 0.218], [0.024, 0.262], [0.0242, 0.298], [0.0245, 0.24], [0.0247, 0.282],
  [0.025, 0.225], [0.0252, 0.268], [0.0254, 0.3], [0.0257, 0.255], [0.0259, 0.285], [0.0261, 0.238],
  [0.0264, 0.275], [0.0266, 0.31], [0.0268, 0.262], [0.0271, 0.28], [0.0273, 0.245], [0.0276, 0.295],
  [0.0279, 0.272], [0.0282, 0.245], [0.0285, 0.3], [0.0289, 0.285], [0.0292, 0.31], [0.0295, 0.245],
  [0.0298, 0.29], [0.0301, 0.318], [0.0304, 0.278], [0.0309, 0.295], [0.0312, 0.318], [0.0316, 0.265],
  [0.032, 0.34], [0.0324, 0.3], [0.0327, 0.265], [0.0332, 0.32], [0.0336, 0.275], [0.0344, 0.34],
  [0.0348, 0.295], [0.0352, 0.32], [0.0356, 0.35], [0.036, 0.285], [0.0364, 0.34], [0.0371, 0.31],
  [0.0374, 0.35], [0.0379, 0.29], [0.0384, 0.345], [0.0389, 0.31], [0.0394, 0.355], [0.0397, 0.325],
  [0.0401, 0.35], [0.0406, 0.375], [0.0414, 0.37], [0.0418, 0.385], [0.0423, 0.375], [0.043, 0.36],
];

// Linear trendlines as reported
const trendBVUP = { slope: 16.921, intercept: 0.5977, r2: 0.1728 };
const trendBVRPa = { slope: 4.9927, intercept: 0.1561, r2: 0.3006 };

const xTicks = [0, 0.01, 0.02, 0.03, 0.04, 0.05, 0.06];
const yTicks = [0, 0.2, 0.4, 0.6, 0.8, 1, 1.2, 1.4];

const toPoints = (rows: [number, number][]) => rows.map(([x, y]) => ({ x, y }));
const bvupData = toPoints([...bvupDense, ...bvupCore, ...bvupLower, ...bvupUpper]);
const bvrpaData = toPoints([...bvrpaBand, ...bvrpaCore, ...bvrpaFill, ...bvrpaSpread]);

const trendSegment = (data: { x: number }[], t: { slope: number; intercept: number }) => {
  const xs = data.map((d) => d.x);
  const x0 = Math.min(...xs);
  const x1 = Math.max(...xs);
  return [
    { x: x0, y: t.slope * x0 + t.intercept },
    { x: x1, y: t.slope * x1 + t.intercept },
  ];
};

const FONT = "Lato, 'Liberation Sans', sans-serif";
const TEXT = "#595959";
const GRID = "#d9d9d9";
const LIGHT_FILL = "#d3eadf";
const LIGHT_STROKE = "#7dbca3";
const DARK_FILL = "#219a80";
const DARK_STROKE = "#1b6e5b";
const TREND_DASH = "2.4 3.2";

const fmt = (v: number) => String(Number(v.toFixed(4)));
const eq = (t: { slope: number; intercept: number }) => `y = ${t.slope}x + ${t.intercept}`;

const lightDot = (p: any) => (
  <circle cx={p.cx} cy={p.cy} r={4.4} fill={LIGHT_FILL} stroke={LIGHT_STROKE} strokeWidth={1.5} />
);
const darkDot = (p: any) => (
  <circle cx={p.cx} cy={p.cy} r={4.4} fill={DARK_FILL} stroke={DARK_STROKE} strokeWidth={1.3} />
);

const EquationBox = ({ left, top, t }: { left: number; top: number; t: typeof trendBVUP }) => (
  <div
    style={{
      position: "absolute",
      left,
      top,
      width: 170,
      height: 52,
      boxSizing: "border-box",
      border: "2px solid #000",
      background: "#fff",
      fontFamily: FONT,
      fontSize: 16.5,
      color: TEXT,
      textAlign: "center",
      lineHeight: "21px",
      paddingTop: 4,
      whiteSpace: "nowrap",
    }}
  >
    <div>{eq(t)}</div>
    <div>
      R<sup style={{ fontSize: 10, verticalAlign: "6px", lineHeight: 0 }}>2</sup> = {t.r2}
    </div>
  </div>
);

const LegendRow = ({ top, kind, label }: { top: number; kind: string; label: string }) => (
  <div style={{ position: "absolute", left: 918, top, height: 20, width: 190 }}>
    <svg width={60} height={20} style={{ position: "absolute", left: 0, top: 0 }}>
      {kind === "light" && <circle cx={30} cy={10} r={4} fill={LIGHT_FILL} stroke={LIGHT_STROKE} strokeWidth={1.5} />}
      {kind === "dark" && <circle cx={30} cy={10} r={4} fill={DARK_FILL} stroke={DARK_STROKE} strokeWidth={1.3} />}
      {kind === "trendDark" && (
        <line x1={4} y1={10} x2={56} y2={10} stroke="#000" strokeWidth={2.4} strokeDasharray={TREND_DASH} />
      )}
      {kind === "trendLight" && (
        <line x1={4} y1={10} x2={56} y2={10} stroke="#26a58b" strokeWidth={2.4} strokeDasharray={TREND_DASH} />
      )}
    </svg>
    <span
      style={{
        position: "absolute",
        left: 65,
        top: 0,
        lineHeight: "20px",
        fontFamily: FONT,
        fontSize: 16,
        color: TEXT,
        whiteSpace: "nowrap",
      }}
    >
      {label}
    </span>
  </div>
);

export default function App() {
  const segUP = trendSegment(bvupData, trendBVUP);
  const segRPa = trendSegment(bvrpaData, trendBVRPa);
  return (
    <div
      style={{
        position: "absolute",
        left: 8,
        top: 12,
        width: 1100,
        height: 650,
        boxSizing: "border-box",
        border: `1px solid ${GRID}`,
        background: "#fff",
      }}
    >
      <ScatterChart
        width={1094}
        height={642}
        margin={{ top: 25, right: 208, bottom: 12, left: 0 }}
        style={{ fontFamily: FONT }}
      >
        <CartesianGrid stroke={GRID} strokeWidth={1.5} />
        <XAxis
          type="number"
          dataKey="x"
          domain={[0, 0.06]}
          ticks={xTicks}
          tickFormatter={fmt}
          interval={0}
          height={80}
          axisLine={{ stroke: GRID, strokeWidth: 1.5 }}
          tickLine={false}
          tickMargin={12}
          tick={{ fill: TEXT, fontSize: 19, fontFamily: FONT }}
        />
        <YAxis
          type="number"
          dataKey="y"
          domain={[0, 1.4]}
          ticks={yTicks}
          tickFormatter={fmt}
          interval={0}
          width={118}
          axisLine={{ stroke: GRID, strokeWidth: 1.5 }}
          tickLine={false}
          tickMargin={16}
          tick={{ fill: TEXT, fontSize: 19, fontFamily: FONT }}
          label={{
            value: "kg CO2 éq. / UF",
            angle: -90,
            position: "insideLeft",
            offset: 22,
            style: { fill: TEXT, fontSize: 21, fontWeight: 700, fontFamily: FONT, textAnchor: "middle" },
          }}
        />
        <Scatter name="BVUP" data={bvupData} shape={lightDot} isAnimationActive={false} />
        <Scatter name="BVRPa" data={bvrpaData} shape={darkDot} isAnimationActive={false} />
        <ReferenceLine
          segment={segUP}
          stroke="#000"
          strokeWidth={2.4}
          strokeDasharray={TREND_DASH}
        />
        <ReferenceLine
          segment={segRPa}
          stroke="#26a58b"
          strokeWidth={2.4}
          strokeDasharray={TREND_DASH}
        />
      </ScatterChart>
      <div
        style={{
          position: "absolute",
          left: 212,
          top: 603,
          width: 800,
          textAlign: "center",
          fontFamily: FONT,
          fontSize: 21.5,
          fontWeight: 700,
          color: TEXT,
          lineHeight: "26px",
          whiteSpace: "nowrap",
        }}
      >
        Consommation de diesel par UF (transports aller et retour)
      </div>
      <EquationBox left={497} top={87} t={trendBVUP} />
      <EquationBox left={687} top={450} t={trendBVRPa} />
      <LegendRow top={346} kind="light" label="BVUP" />
      <LegendRow top={391} kind="dark" label="BVRPa" />
      <LegendRow top={436} kind="trendDark" label="Linear (BVUP)" />
      <LegendRow top={481} kind="trendLight" label="Linear (BVRPa)" />
    </div>
  );
}
